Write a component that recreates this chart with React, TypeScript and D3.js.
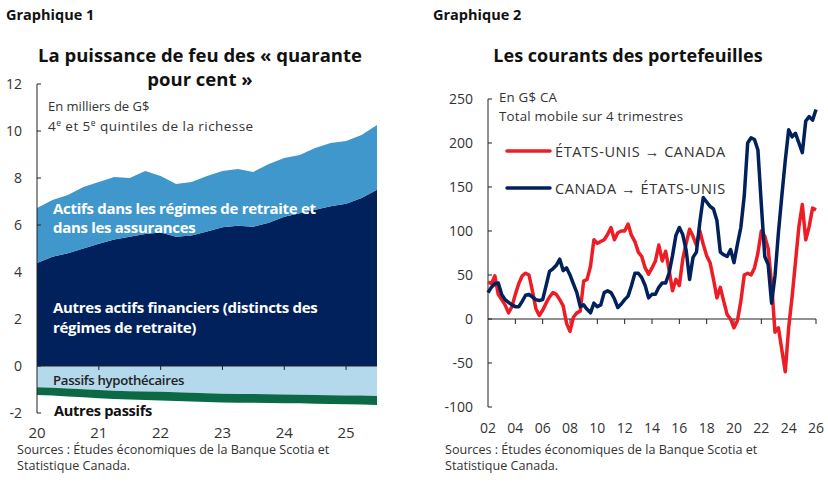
import React, { useEffect, useRef } from 'react';
import * as d3 from 'd3';

// ---- Graphique 1 : quarterly, 2020T1 to 2025T3, thousands of G$
const wealthStartYear = 2020;
const otherFinancialAssets = [4.38, 4.65, 4.8, 5.0, 5.2, 5.38, 5.5, 5.62, 5.68, 5.5, 5.55, 5.72, 5.9, 5.97, 5.93, 6.1, 6.35, 6.5, 6.65, 6.8, 6.9, 7.15, 7.5];
const pensionInsuranceAssets = [2.34, 2.41, 2.48, 2.62, 2.63, 2.66, 2.5, 2.68, 2.41, 2.24, 2.28, 2.37, 2.4, 2.41, 2.33, 2.5, 2.5, 2.48, 2.63, 2.69, 2.67, 2.68, 2.76];
const mortgageLiabilities = [-0.9, -0.93, -0.96, -0.99, -1.02, -1.05, -1.07, -1.09, -1.1, -1.12, -1.14, -1.16, -1.18, -1.19, -1.19, -1.2, -1.21, -1.22, -1.23, -1.24, -1.25, -1.26, -1.28];
const otherLiabilities = [-0.33, -0.33, -0.34, -0.34, -0.35, -0.35, -0.36, -0.36, -0.37, -0.37, -0.37, -0.37, -0.37, -0.37, -0.37, -0.37, -0.37, -0.37, -0.38, -0.38, -0.38, -0.38, -0.38];
const wealthYTicks = [-2, 0, 2, 4, 6, 8, 10, 12];
const wealthXTicks = [2020, 2021, 2022, 2023, 2024, 2025];

// ---- Graphique 2 : 4-quarter moving total, G$ CA, 2002 to 2026
const flowStartYear = 2002;
const usToCanada = [42, 40, 49, 28, 22, 16, 7, 14, 28, 40, 49, 52, 50, 32, 12, 4, 10, 18, 25, 30, 28, 22, 15, -5, -14, 2, 7, 9, 43, 45, 60, 90, 86, 88, 90, 96, 104, 90, 98, 100, 100, 108, 95, 88, 76, 71, 58, 51, 58, 66, 84, 66, 77, 56, 32, 45, 38, 68, 86, 102, 94, 84, 100, 85, 72, 64, 45, 24, 36, 20, 5, 0, -10, -2, 20, 50, 52, 50, 58, 75, 100, 94, 80, 40, -15, -10, -35, -60, -10, 25, 65, 105, 130, 90, 105, 126, 124];
const canadaToUs = [30, 36, 40, 41, 28, 22, 19, 16, 14, 14, 20, 27, 28, 25, 22, 21, 22, 38, 54, 57, 61, 68, 55, 58, 50, 40, 30, 14, 16, 11, 7, 18, 14, 16, 30, 32, 30, 23, 13, 17, 22, 26, 38, 52, 52, 47, 38, 24, 28, 28, 36, 41, 41, 52, 72, 95, 104, 96, 78, 45, 70, 76, 110, 138, 133, 128, 125, 112, 76, 73, 71, 79, 64, 85, 104, 140, 200, 206, 204, 192, 130, 71, 62, 18, 49, 98, 140, 180, 215, 207, 211, 200, 189, 225, 230, 226, 238];
const flowYTicks = [-100, -50, 0, 50, 100, 150, 200, 250];
const flowXTicks = [2002, 2004, 2006, 2008, 2010, 2012, 2014, 2016, 2018, 2020, 2022, 2024, 2026];

const FONT = "'Open Sans', 'Noto Sans', sans-serif";
const NAVY = '#00215c';
const MID_BLUE = '#3f97cb';
const PALE_BLUE = '#b4d8ec';
const GREEN = '#0b6a45';
const RED = '#ee1c25';
const TEXT = '#333';

function App() {
  const svgRef = useRef<SVGSVGElement>(null);

  useEffect(() => {
    if (!svgRef.current) return;
    const svg = d3.select(svgRef.current);
    svg.selectAll('*').remove();
    svg.attr('font-family', FONT);

    // ================= Graphique 1 =================
    const g1 = svg.append('g');
    const x1 = d3.scaleLinear().domain([2020, 2025.5]).range([37, 377]);
    const y1 = d3.scaleLinear().domain([-2, 12]).range([413, 84]);

    const rows = otherFinancialAssets.map((v, i) => ({
      t: wealthStartYear + i / 4,
      other: v,
      pension: pensionInsuranceAssets[i],
      mortgage: mortgageLiabilities[i],
      otherLiab: otherLiabilities[i],
    }));
    const keys = ['other', 'pension', 'mortgage', 'otherLiab'];
    const colors: Record<string, string> = { other: NAVY, pension: MID_BLUE, mortgage: PALE_BLUE, otherLiab: GREEN };
    const stack = d3.stack<any>().keys(keys).offset(d3.stackOffsetDiverging);
    const series = stack(rows);
    const area = d3.area<any>()
      .x(d => x1(d.data.t))
      .y0(d => y1(d[0]))
      .y1(d => y1(d[1]));

    g1.selectAll('path.layer')
      .data(series)
      .join('path')
      .attr('class', 'layer')
      .attr('fill', (d: any) => colors[d.key])
      .attr('d', area as any);

    // axes
    g1.append('line')
      .attr('x1', x1(2020)).attr('x2', x1(2020))
      .attr('y1', y1(12)).attr('y2', y1(-2))
      .attr('stroke', '#222').attr('stroke-width', 1);
    g1.append('line')
      .attr('x1', x1(2020)).attr('x2', x1(2025.5))
      .attr('y1', y1(0)).attr('y2', y1(0))
      .attr('stroke', '#222').attr('stroke-width', 1);
    g1.selectAll('line.ytick')
      .data(wealthYTicks)
      .join('line')
      .attr('class', 'ytick')
      .attr('x1', x1(2020)).attr('x2', x1(2020) + 4)
      .attr('y1', d => y1(d)).attr('y2', d => y1(d))
      .attr('stroke', '#222');
    g1.selectAll('text.ylab')
      .data(wealthYTicks)
      .join('text')
      .attr('class', 'ylab')
      .attr('x', 22).attr('y', d => y1(d) + 5)
      .attr('text-anchor', 'end')
      .attr('font-size', 14).attr('fill', TEXT)
      .text(d => d);
    g1.selectAll('line.xtick')
      .data(wealthXTicks.slice(1))
      .join('line')
      .attr('class', 'xtick')
      .attr('x1', d => x1(d)).attr('x2', d => x1(d))
      .attr('y1', y1(0)).attr('y2', y1(0) + 4)
      .attr('stroke', '#222');
    g1.selectAll('text.xlab')
      .data(wealthXTicks)
      .join('text')
      .attr('class', 'xlab')
      .attr('x', d => x1(d)).attr('y', 438)
      .attr('text-anchor', 'middle')
      .attr('font-size', 15).attr('fill', TEXT)
      .text(d => String(d).slice(2));

    // titles & notes
    g1.append('text').attr('x', 6).attr('y', 20)
      .attr('font-size', 14.5).attr('font-weight', 700).attr('fill', '#111')
      .text('Graphique 1');
    g1.append('text').attr('x', 200).attr('y', 62).attr('text-anchor', 'middle')
      .attr('font-size', 18.5).attr('font-weight', 700).attr('fill', '#111')
      .text('La puissance de feu des « quarante');
    g1.append('text').attr('x', 200).attr('y', 86).attr('text-anchor', 'middle')
      .attr('font-size', 18.5).attr('font-weight', 700).attr('fill', '#111')
      .text('pour cent »');
    g1.append('text').attr('x', 48).attr('y', 111)
      .attr('font-size', 13).attr('fill', TEXT)
      .text('En milliers de G$');
    const q = g1.append('text').attr('x', 48).attr('y', 131)
      .attr('font-size', 13.5).attr('fill', TEXT).attr('letter-spacing', 0.45);
    q.append('tspan').text('4');
    q.append('tspan').attr('dy', -5).attr('font-size', 8.5).text('e');
    q.append('tspan').attr('dy', 5).text(' et 5');
    q.append('tspan').attr('dy', -5).attr('font-size', 8.5).text('e');
    q.append('tspan').attr('dy', 5).text(' quintiles de la richesse');

    const label = (x: number, y: number, txt: string, fill: string, size: number, weight = 700) =>
      g1.append('text').attr('x', x).attr('y', y)
        .attr('font-size', size).attr('font-weight', weight).attr('fill', fill)
        .attr('letter-spacing', -0.3)
        .text(txt);
    label(53, 214, 'Actifs dans les régimes de retraite et', '#fff', 15);
    label(53, 233, 'dans les assurances', '#fff', 15);
    label(53, 313, 'Autres actifs financiers (distincts des', '#fff', 15);
    label(53, 333, 'régimes de retraite)', '#fff', 15);
    label(53, 385, 'Passifs hypothécaires', '#222', 13.2, 600);
    label(54, 416, 'Autres passifs', '#111', 14.6);

    g1.append('text').attr('x', 17).attr('y', 454)
      .attr('font-size', 12.6).attr('fill', TEXT)
      .text('Sources : Études économiques de la Banque Scotia et');
    g1.append('text').attr('x', 17).attr('y', 470)
      .attr('font-size', 12.6).attr('fill', TEXT)
      .text('Statistique Canada.');

    // ================= Graphique 2 =================
    const g2 = svg.append('g');
    const x2 = d3.scaleLinear().domain([2002, 2026]).range([488, 816]);
    const y2 = d3.scaleLinear().domain([-100, 250]).range([407, 99]);

    g2.append('line')
      .attr('x1', x2(2002)).attr('x2', x2(2002))
      .attr('y1', y2(250)).attr('y2', y2(-100))
      .attr('stroke', '#222');
    g2.append('line')
      .attr('x1', x2(2002)).attr('x2', x2(2026))
      .attr('y1', y2(0)).attr('y2', y2(0))
      .attr('stroke', '#222');
    g2.selectAll('line.ytick')
      .data(flowYTicks)
      .join('line')
      .attr('class', 'ytick')
      .attr('x1', x2(2002)).attr('x2', x2(2002) + 4)
      .attr('y1', d => y2(d)).attr('y2', d => y2(d))
      .attr('stroke', '#222');
    g2.selectAll('text.ylab')
      .data(flowYTicks)
      .join('text')
      .attr('class', 'ylab')
      .attr('x', 473).attr('y', d => y2(d) + 5)
      .attr('text-anchor', 'end')
      .attr('font-size', 14).attr('fill', TEXT)
      .text(d => d);
    g2.selectAll('line.xtick')
      .data(flowXTicks.slice(1))
      .join('line')
      .attr('class', 'xtick')
      .attr('x1', d => x2(d)).attr('x2', d => x2(d))
      .attr('y1', y2(0)).attr('y2', y2(0) + 5)
      .attr('stroke', '#222');
    g2.selectAll('text.xlab')
      .data(flowXTicks)
      .join('text')
      .attr('class', 'xlab')
      .attr('x', d => x2(d)).attr('y', 433)
      .attr('text-anchor', 'middle')
      .attr('font-size', 14).attr('fill', TEXT)
      .text(d => String(d).slice(2));

    const line = d3.line<number>()
      .x((_, i) => x2(flowStartYear + i / 4))
      .y(d => y2(d));
    g2.append('path').datum(usToCanada)
      .attr('fill', 'none').attr('stroke', RED).attr('stroke-width', 3.5)
      .attr('stroke-linejoin', 'round')
      .attr('d', line);
    g2.append('path').datum(canadaToUs)
      .attr('fill', 'none').attr('stroke', NAVY).attr('stroke-width', 3.5)
      .attr('stroke-linejoin', 'round')
      .attr('d', line);

    // legend
    const legend = [
      { name: 'ÉTATS-UNIS → CANADA', color: RED, y: 151 },
      { name: 'CANADA → ÉTATS-UNIS', color: NAVY, y: 188 },
    ];
    legend.forEach(l => {
      g2.append('line')
        .attr('x1', 507).attr('x2', 550).attr('y1', l.y).attr('y2', l.y)
        .attr('stroke', l.color).attr('stroke-width', 3.5).attr('stroke-linecap', 'round');
      g2.append('text').attr('x', 555).attr('y', l.y + 6)
        .attr('font-size', 14.5).attr('fill', TEXT)
        .attr('letter-spacing', 0.6)
        .text(l.name);
    });

    g2.append('text').attr('x', 433).attr('y', 20)
      .attr('font-size', 14.5).attr('font-weight', 700).attr('fill', '#111')
      .text('Graphique 2');
    g2.append('text').attr('x', 628).attr('y', 62).attr('text-anchor', 'middle')
      .attr('font-size', 18).attr('font-weight', 700).attr('fill', '#111')
      .text('Les courants des portefeuilles');
    g2.append('text').attr('x', 499).attr('y', 102)
      .attr('font-size', 13.3).attr('fill', TEXT).attr('letter-spacing', 0.2)
      .text('En G$ CA');
    g2.append('text').attr('x', 499).attr('y', 121)
      .attr('font-size', 13.3).attr('fill', TEXT).attr('letter-spacing', 0.2)
      .text('Total mobile sur 4 trimestres');
    g2.append('text').attr('x', 445).attr('y', 454)
      .attr('font-size', 12.6).attr('fill', TEXT)
      .text('Sources : Études économiques de la Banque Scotia et');
    g2.append('text').attr('x', 445).attr('y', 470)
      .attr('font-size', 12.6).attr('fill', TEXT)
      .text('Statistique Canada.');
  }, []);

  return (
    <svg
      ref={svgRef}
      width={828}
      height={483}
      style={{ position: 'absolute', left: 0, top: 0, background: '#fff' }}
    />
  );
}

export default App;
